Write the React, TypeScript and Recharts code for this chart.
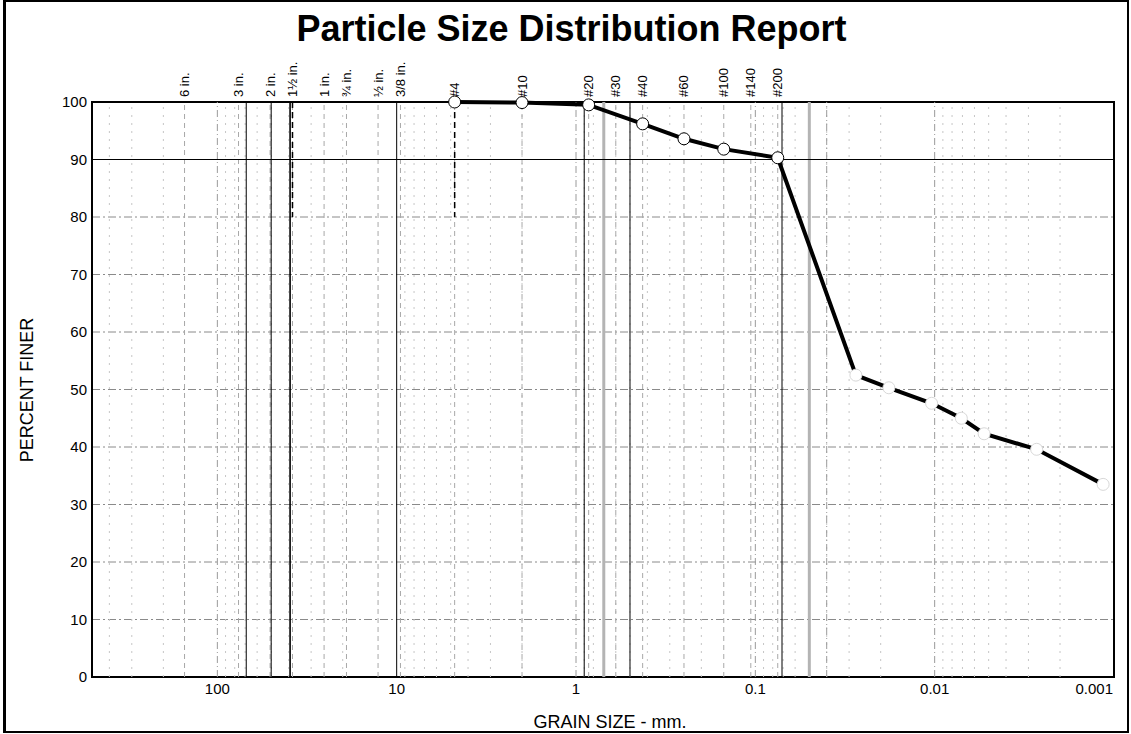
import React from 'react';
import { LineChart, Line, XAxis, YAxis, CartesianGrid, ReferenceLine, ReferenceArea } from 'recharts';

// sieve openings (mm) and the names printed along the top
const sieveMm = [152.4, 76.2, 50.8, 38.1, 25.4, 19.05, 12.7, 9.525, 4.75, 2.0, 0.85, 0.6, 0.425, 0.25, 0.15, 0.106, 0.075];
const sieveNames = ['6 in.', '3 in.', '2 in.', '1½ in.', '1 in.', '¾ in.', '½ in.', '3/8 in.', '#4', '#10', '#20', '#30', '#40', '#60', '#100', '#140', '#200'];

// test results: grain size (mm) vs percent finer
const grainMm = [4.75, 2.0, 0.85, 0.425, 0.25, 0.15, 0.075, 0.0275, 0.018, 0.0104, 0.0071, 0.0053, 0.0027, 0.00115];
const percentFiner = [100, 99.9, 99.5, 96.2, 93.6, 91.8, 90.3, 52.5, 50.3, 47.6, 45.0, 42.3, 39.6, 33.5];
const pointSource = ['sieve', 'sieve', 'sieve', 'sieve', 'sieve', 'sieve', 'sieve', 'hydro', 'hydro', 'hydro', 'hydro', 'hydro', 'hydro', 'hydro'];

const xTicks = [100, 10, 1, 0.1, 0.01, 0.001];
const yTicks = [0, 10, 20, 30, 40, 50, 60, 70, 80, 90, 100];

// vertical lines seen on the report
const solidLinesMm = [69, 50.1, 39.3, 10, 0.9, 0.5, 0.071];
const grayBandsMm = [0.7, 0.05];
const decadeLinesMm = [100, 1, 0.1, 0.01, 0.04];
const specLinesMm = [38.1, 4.75];

// light log grid, 2..9 in each decade
const minorGrid: number[] = [];
[0.001, 0.01, 0.1, 1, 10, 100].forEach((d) => {
  for (let m = 2; m <= 9; m++) {
    const v = Number((d * m).toPrecision(3));
    if (v < 500) minorGrid.push(v);
  }
});

const data = grainMm.map((mm, i) => ({ mm, finer: percentFiner[i], src: pointSource[i] }));

const renderDot = (p: any) => {
  const { cx, cy, index, payload } = p;
  const hydro = payload && payload.src === 'hydro';
  return (
    <circle key={`dot-${index}`} cx={cx} cy={cy} r={6} fill="#fff"
      stroke={hydro ? '#d8d8d8' : '#000'} strokeWidth={1} />
  );
};

const SieveLabel = ({ viewBox, text }: any) => {
  if (!viewBox) return null;
  const x = viewBox.x;
  const y = viewBox.y - 5;
  return (
    <text x={x} y={y} transform={`rotate(-90 ${x} ${y})`} fontSize={13} fill="#000"
      dominantBaseline="central" textAnchor="start">{text}</text>
  );
};

const GrainTick = ({ x, y, payload }: any) => {
  const last = payload.value === 0.001;
  return (
    <text x={last ? x - 1 : x} y={y} dy="0.71em" fontSize={15} fill="#000" textAnchor={last ? 'end' : 'middle'}>
      {String(payload.value)}
    </text>
  );
};

export default function App() {
  return (
    <div style={{ position: 'absolute', left: 0, top: 0, width: 1131, height: 734, background: '#fff',
      fontFamily: 'Arial, "Liberation Sans", Helvetica, sans-serif', color: '#000' }}>
      <div style={{ position: 'absolute', left: 3, top: 0, width: 1126, height: 733,
        border: '2px solid #000', borderLeftWidth: 3, boxSizing: 'border-box' }} />
      <div style={{ position: 'absolute', left: 0, top: 0 }}>
        <LineChart width={1131} height={734} data={data} margin={{ top: 102, right: 17, bottom: 27, left: 52 }}>
          <CartesianGrid vertical={false} stroke="#8a8a8a" strokeDasharray="8 3 2 3" />
          <XAxis dataKey="mm" type="number" scale="log" domain={[0.001, 500]} reversed
            ticks={xTicks} interval={0} height={30} axisLine={false} tickLine={false}
            tickSize={0} tickMargin={6} tick={<GrainTick />} />
          <YAxis type="number" domain={[0, 100]} ticks={yTicks} interval={0} width={40}
            axisLine={false} tickLine={false} tickSize={0} tickMargin={5}
            tick={{ fill: '#000', fontSize: 15 }} />

          {minorGrid.map((v) => (
            <ReferenceLine key={`m${v}`} x={v} stroke="#c6c6c6" strokeDasharray="2 6" />
          ))}
          {decadeLinesMm.map((v) => (
            <ReferenceLine key={`g${v}`} x={v} stroke="#9a9a9a" strokeDasharray="7 3 1 3" />
          ))}
          {sieveMm.map((v, i) => (
            <ReferenceLine key={`s${v}`} x={v} stroke="#a8a8a8" strokeDasharray="5 4"
              label={(props: any) => <SieveLabel {...props} text={sieveNames[i]} />} />
          ))}
          {grayBandsMm.map((v) => (
            <ReferenceLine key={`b${v}`} x={v} stroke="#b4b4b4" strokeWidth={3} />
          ))}
          {solidLinesMm.map((v, i) => (
            <ReferenceLine key={`l${v}`} x={v} stroke="#000" strokeWidth={i === 2 ? 1.6 : 1} />
          ))}
          {specLinesMm.map((v) => (
            <ReferenceLine key={`p${v}`} segment={[{ x: v, y: 100 }, { x: v, y: 80 }]}
              stroke="#000" strokeWidth={1.5} strokeDasharray="6 4" />
          ))}
          <ReferenceLine y={90} stroke="#000" strokeWidth={1} />
          <ReferenceArea x1={500} x2={0.001} y1={0} y2={100} fill="none" stroke="#000"
            strokeWidth={2} ifOverflow="visible" />

          <Line type="linear" dataKey="finer" stroke="#000" strokeWidth={4}
            dot={renderDot} activeDot={false} isAnimationActive={false} />
        </LineChart>
      </div>
      <div style={{ position: 'absolute', left: 6, top: 11, width: 1131, textAlign: 'center',
        fontSize: 36, lineHeight: '36px', fontWeight: 'bold' }}>Particle Size Distribution Report</div>
      <div style={{ position: 'absolute', left: 27, top: 390, fontSize: 18, lineHeight: '18px',
        whiteSpace: 'nowrap', transform: 'translate(-50%, -50%) rotate(-90deg)' }}>PERCENT FINER</div>
      <div style={{ position: 'absolute', left: 610, top: 722, fontSize: 18, lineHeight: '18px',
        whiteSpace: 'nowrap', transform: 'translate(-50%, -50%)' }}>GRAIN SIZE - mm.</div>
    </div>
  );
}
